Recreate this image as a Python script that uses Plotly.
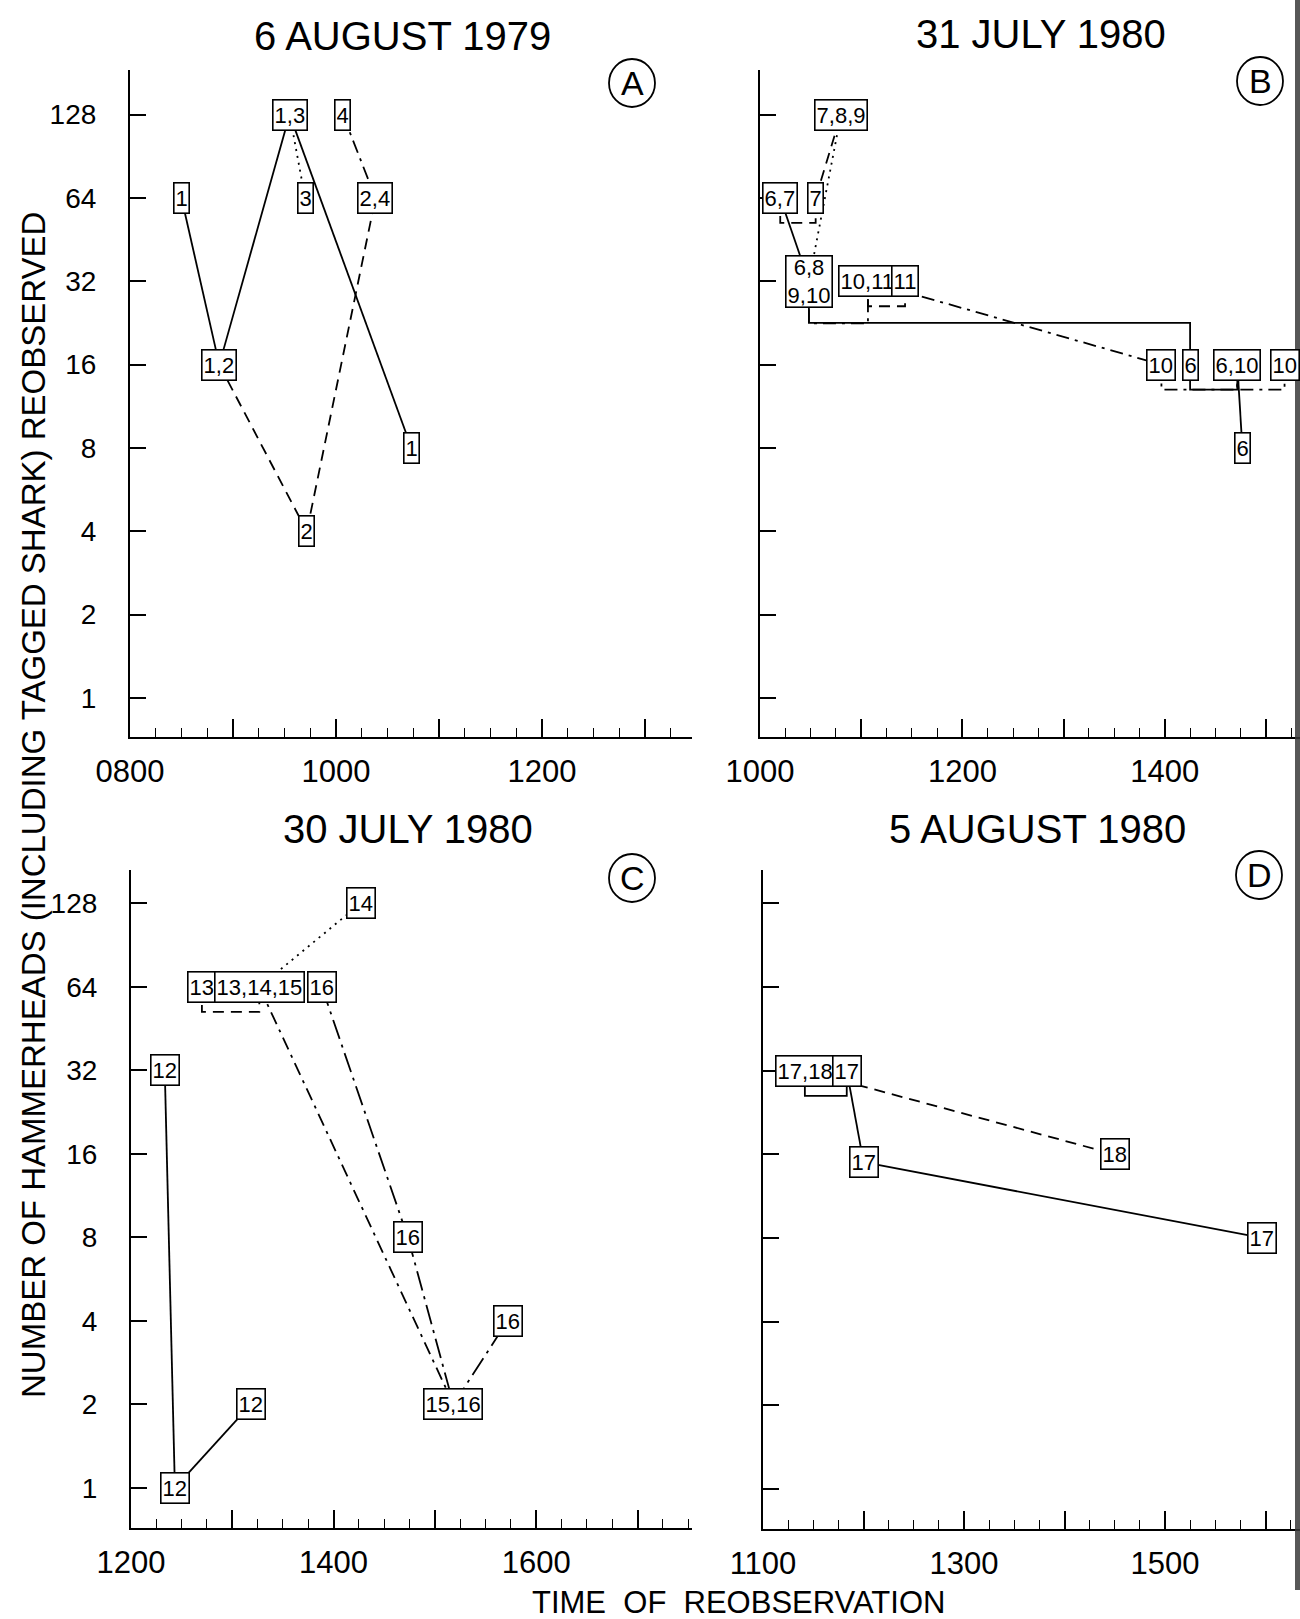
import math
import plotly.graph_objects as go

W, H = 1300, 1619

# ---- Panel A: 6 August 1979 ----
A_time = [830, 852, 933, 1004, 942, 1023, 943, 1044]
A_count = [64, 16, 128, 128, 64, 64, 4, 8]
A_label = ["1", "1,2", "1,3", "4", "3", "2,4", "2", "1"]
A_links = [(0, 1, "solid", "line"), (1, 2, "solid", "line"), (2, 7, "solid", "line"),
           (1, 6, "dash", "line"), (6, 5, "dash", "line"),
           (2, 4, "dot", "line"),
           (3, 5, "dashdot", "line")]

# ---- Panel B: 31 July 1980 ----
B_time = [1048, 1012, 1033, 1029, 1104, 1126, 1358, 1415, 1443, 1511, 1446]
B_count = [128, 64, 64, 32, 32, 32, 16, 16, 16, 16, 8]
B_label = ["7,8,9", "6,7", "7", "6,8<br>9,10", "10,11", "11", "10", "6", "6,10", "10", "6"]
B_links = [(1, 3, "solid", "line"), (3, 7, "solid", "step"), (7, 8, "solid", "under"),
           (8, 10, "solid", "line"),
           (1, 2, "dash", "under"), (2, 0, "dash", "line"),
           (0, 3, "dot", "line"),
           (3, 4, "dashdot", "under"), (4, 6, "dashdot", "line"),
           (6, 8, "dashdot", "under"), (8, 9, "dashdot", "under"),
           (4, 5, "dash", "under")]

# ---- Panel C: 30 July 1980 ----
C_time = [1220, 1226, 1311, 1242, 1316, 1353, 1416, 1444, 1511, 1543]
C_count = [32, 1, 2, 64, 64, 64, 128, 8, 2, 4]
C_label = ["12", "12", "12", "13", "13,14,15", "16", "14", "16", "15,16", "16"]
C_links = [(0, 1, "solid", "line"), (1, 2, "solid", "line"),
           (3, 4, "dash", "under"),
           (4, 6, "dot", "line"),
           (4, 8, "dashdot", "line"),
           (5, 7, "longdashdot", "line"), (7, 8, "longdashdot", "line"),
           (8, 9, "longdashdot", "line")]

# ---- Panel D: 5 August 1980 ----
D_time = [1125, 1150, 1200, 1430, 1558]
D_count = [32, 32, 15, 16, 8]
D_label = ["17,18", "17", "17", "18", "17"]
D_links = [(0, 1, "solid", "under"), (1, 2, "solid", "line"), (2, 4, "solid", "line"),
           (0, 3, "dash", "line")]

COUNT_TICKS = [1, 2, 4, 8, 16, 32, 64, 128]

FONT = "Liberation Sans, Arial, Helvetica, sans-serif"

DASHES = {"solid": "solid", "dash": "11px,7px", "dot": "2px,5px",
          "dashdot": "13px,6px,3px,6px", "longdashdot": "20px,6px,3px,6px"}

PX_PER_DOUBLING = 83.4


def hours(t):
    return t // 100 + (t % 100) / 60


def nlines(lab):
    return lab.count("<br>") + 1


def route(x1, y1, x2, y2, kind, depth_lines):
    if kind == "line":
        return [x1, x2], [y1, y2]
    if kind == "step":
        ym = math.sqrt(y1 * y2)
        return [x1, x1, x2, x2], [y1, ym, ym, y2]
    # bracket running underneath both boxes
    drop = (17 * depth_lines + 8) / PX_PER_DOUBLING
    yb = min(y1, y2) * 2 ** (-drop)
    return [x1, x1, x2, x2], [y1, yb, yb, y2]


panels = [
    dict(letter="A", title="6 AUGUST 1979", time=A_time, count=A_count, label=A_label,
         links=A_links, n="", xpx=(130, 692), ypx=(70, 737), x0=8, pxh=103,
         ylog2=(-0.468, 7.535), ylabels=True, tx=0.485, ty=36, circ=(632, 83)),
    dict(letter="B", title="31 JULY 1980", time=B_time, count=B_count, label=B_label,
         links=B_links, n="2", xpx=(760, 1300), ypx=(70, 737), x0=10, pxh=101.2,
         ylog2=(-0.468, 7.535), ylabels=False, tx=0.52, ty=34, circ=(1260, 81)),
    dict(letter="C", title="30 JULY 1980", time=C_time, count=C_count, label=C_label,
         links=C_links, n="3", xpx=(131, 692), ypx=(870, 1528), x0=12, pxh=101.3,
         ylog2=(-0.48, 7.40), ylabels=True, tx=0.494, ty=829, circ=(632, 878)),
    dict(letter="D", title="5 AUGUST 1980", time=D_time, count=D_count, label=D_label,
         links=D_links, n="4", xpx=(763, 1300), ypx=(870, 1529), x0=11, pxh=100.5,
         ylog2=(-0.48, 7.40), ylabels=False, tx=0.512, ty=829, circ=(1259, 875)),
]

fig = go.Figure()
layout = dict(width=W, height=H, margin=dict(l=0, r=0, t=0, b=0, autoexpand=False),
              paper_bgcolor="white", plot_bgcolor="white", showlegend=False)
annotations = []
shapes = []

for p in panels:
    xa, ya = "x" + p["n"], "y" + p["n"]
    xs = [hours(t) for t in p["time"]]
    ys = p["count"]
    labs = p["label"]

    # connecting lines, one trace per line style
    by_style = {}
    for i, j, style, kind in p["links"]:
        depth = max(nlines(labs[i]), nlines(labs[j]))
        lx, ly = route(xs[i], ys[i], xs[j], ys[j], kind, depth)
        bx, by = by_style.setdefault(style, ([], []))
        bx.extend(lx + [None])
        by.extend(ly + [None])
    for style, (lx, ly) in by_style.items():
        fig.add_trace(go.Scatter(x=lx, y=ly, mode="lines", xaxis=xa, yaxis=ya,
                                 line=dict(color="black", width=1.8, dash=DASHES[style]),
                                 hoverinfo="skip"))

    # boxed shark numbers
    for x, y, lab in zip(xs, ys, labs):
        nl = nlines(lab)
        annotations.append(dict(
            x=x, y=math.log10(y), xref=xa, yref=ya, text=lab, showarrow=False,
            xanchor="center", yanchor="middle",
            font=dict(family=FONT, size=22, color="black"),
            bgcolor="white", bordercolor="black", borderwidth=1.6, borderpad=1,
            height=27 if nl == 1 else 48))

    # axes
    x_end = p["x0"] + (p["xpx"][1] - p["xpx"][0]) / p["pxh"]
    hrs = list(range(p["x0"], int(math.floor(x_end)) + 1))
    htext = [f"{h:02d}00" if (h - p["x0"]) % 2 == 0 else "" for h in hrs]
    layout["xaxis" + p["n"]] = dict(
        domain=[p["xpx"][0] / W, p["xpx"][1] / W], range=[p["x0"], x_end],
        anchor=ya, automargin=False, showline=True, linecolor="black", linewidth=2.2,
        showgrid=False, zeroline=False, ticks="inside", ticklen=18, tickwidth=1.5,
        tickcolor="black", tickvals=hrs, ticktext=htext, ticklabelstandoff=6,
        tickfont=dict(family=FONT, size=31, color="black"),
        minor=dict(dtick=0.25, tick0=0, ticks="inside", ticklen=9, tickwidth=1.3,
                   tickcolor="black", showgrid=False))
    lo, hi = p["ylog2"]
    layout["yaxis" + p["n"]] = dict(
        domain=[1 - p["ypx"][1] / H, 1 - p["ypx"][0] / H], type="log",
        range=[lo * math.log10(2), hi * math.log10(2)], anchor=xa, automargin=False,
        showline=True, linecolor="black", linewidth=2.2, showgrid=False, zeroline=False,
        ticks="inside", ticklen=16, tickwidth=1.6, tickcolor="black",
        tickvals=COUNT_TICKS, ticktext=[str(v) for v in COUNT_TICKS],
        showticklabels=p["ylabels"], ticklabelstandoff=26,
        tickfont=dict(family=FONT, size=28, color="black"))

    # panel title
    annotations.append(dict(x=p["tx"], y=1 - p["ty"] / H, xref=xa + " domain", yref="paper",
                            text=p["title"], showarrow=False, xanchor="center",
                            yanchor="middle",
                            font=dict(family=FONT, size=40, color="black")))
    # circled panel letter
    cx, cy = p["circ"]
    shapes.append(dict(type="circle", xref="paper", yref="paper",
                       x0=(cx - 23) / W, x1=(cx + 23) / W,
                       y0=1 - (cy + 24) / H, y1=1 - (cy - 24) / H,
                       line=dict(color="black", width=1.8)))
    annotations.append(dict(x=cx / W, y=1 - cy / H, xref="paper", yref="paper",
                            text=p["letter"], showarrow=False, xanchor="center",
                            yanchor="middle",
                            font=dict(family=FONT, size=34, color="black")))

annotations.append(dict(x=33 / W, y=1 - 805 / H, xref="paper", yref="paper", textangle=-90,
                        xanchor="center", yanchor="middle",
                        text="NUMBER OF HAMMERHEADS (INCLUDING TAGGED SHARK) REOBSERVED",
                        showarrow=False, font=dict(family=FONT, size=33, color="black")))
annotations.append(dict(x=738 / W, y=1 - 1602 / H, xref="paper", yref="paper",
                        xanchor="center", yanchor="middle",
                        text="TIME  OF  REOBSERVATION", showarrow=False,
                        font=dict(family=FONT, size=31, color="black")))

# darkened scanner edge along the right border
shapes.append(dict(type="rect", xref="paper", yref="paper", layer="above",
                   x0=1295 / W, x1=1.0, y0=1 - 1590 / H, y1=1.0,
                   fillcolor="#3a3a3a", line=dict(width=0), opacity=0.85))

layout["annotations"] = annotations
layout["shapes"] = shapes
fig.update_layout(**layout)
fig.write_html("out.html")
